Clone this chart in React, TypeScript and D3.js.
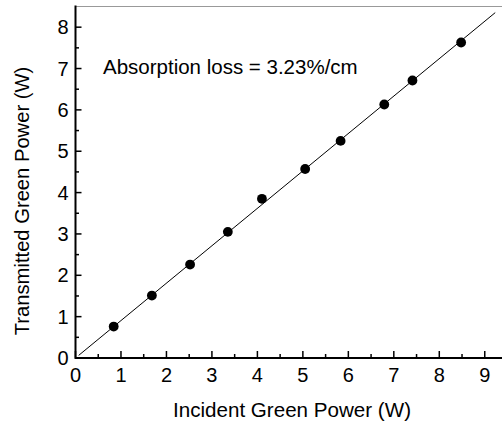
import React from "react";
import * as d3 from "d3";

// Incident vs transmitted green power measurements (W)
const incidentPower = [0.84, 1.68, 2.52, 3.35, 4.1, 5.05, 5.83, 6.79, 7.41, 8.48];
const transmittedPower = [0.76, 1.51, 2.26, 3.05, 3.85, 4.57, 5.25, 6.13, 6.71, 7.63];
const xTickValues = [0, 1, 2, 3, 4, 5, 6, 7, 8, 9];
const yTickValues = [0, 1, 2, 3, 4, 5, 6, 7, 8];
const fitRange = [0.07, 9.23];
const annotation = "Absorption loss = 3.23%/cm";
const xTitle = "Incident Green Power (W)";
const yTitle = "Transmitted Green Power (W)";

const W = 502;
const H = 424;
const left = 75.5;
const right = 507.5;
const top = 6.5;
const bottom = 358;
const font = "Liberation Sans, Arial, Helvetica, sans-serif";

export default function App() {
  const x = d3.scaleLinear().domain([0, 9.5]).range([left, right]);
  const y = d3.scaleLinear().domain([0, 8.5]).range([bottom, top]);

  // least-squares slope through the origin
  const slope =
    d3.sum(incidentPower.map((v, i) => v * transmittedPower[i])) /
    d3.sum(incidentPower.map((v) => v * v));
  const fitLine = d3
    .line<number>()
    .x((d) => x(d))
    .y((d) => y(slope * d));

  const xMinor = d3.range(0.5, 9.5, 1);
  const yMinor = d3.range(0.5, 8.5, 1);

  return (
    <svg
      width={W}
      height={H}
      style={{ position: "absolute", left: 0, top: 0, background: "#fff" }}
      fontFamily={font}
    >
      <rect width={W} height={H} fill="#fff" />
      {/* top frame */}
      <line x1={left} x2={right} y1={top} y2={top} stroke="#999" strokeWidth={1} />
      {/* fit line */}
      <path d={fitLine(fitRange) || ""} stroke="#000" strokeWidth={1} fill="none" />
      {/* data points */}
      {incidentPower.map((v, i) => (
        <circle key={i} cx={x(v)} cy={y(transmittedPower[i])} r={4.9} fill="#000" />
      ))}
      {/* axes */}
      <line x1={left} x2={right} y1={bottom} y2={bottom} stroke="#000" strokeWidth={2} />
      <line x1={left} x2={left} y1={top - 1} y2={bottom + 1} stroke="#000" strokeWidth={2} />
      {xTickValues.map((t) => (
        <g key={"xt" + t}>
          <line x1={x(t)} x2={x(t)} y1={bottom} y2={bottom - 7} stroke="#000" strokeWidth={1.5} />
          <text x={x(t)} y={bottom + 24} fontSize={20} textAnchor="middle" fill="#000">
            {t}
          </text>
        </g>
      ))}
      {xMinor.map((t) => (
        <line key={"xm" + t} x1={x(t)} x2={x(t)} y1={bottom} y2={bottom - 4} stroke="#000" strokeWidth={1.5} />
      ))}
      {yTickValues.map((t) => (
        <g key={"yt" + t}>
          <line x1={left} x2={left + 6} y1={y(t)} y2={y(t)} stroke="#000" strokeWidth={1.5} />
          <text x={left - 7} y={y(t) + 7} fontSize={20} textAnchor="end" fill="#000">
            {t}
          </text>
        </g>
      ))}
      {yMinor.map((t) => (
        <line key={"ym" + t} x1={left} x2={left + 3.5} y1={y(t)} y2={y(t)} stroke="#000" strokeWidth={1.5} />
      ))}
      {/* titles */}
      <text x={292} y={417} fontSize={20.6} textAnchor="middle" fill="#000">
        {xTitle}
      </text>
      <text
        transform={`translate(29,${201}) rotate(-90)`}
        fontSize={20.2}
        textAnchor="middle"
        fill="#000"
      >
        {yTitle}
      </text>
      <text x={103} y={74} fontSize={20.5} fill="#000">
        {annotation}
      </text>
    </svg>
  );
}
